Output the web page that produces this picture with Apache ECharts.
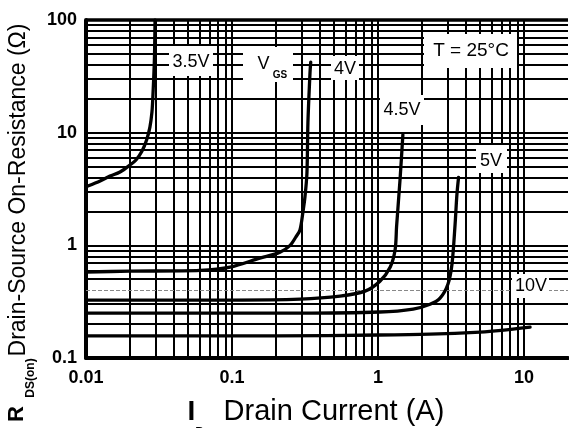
<!DOCTYPE html>
<html><head><meta charset="utf-8">
<script src="https://cdn.jsdelivr.net/npm/echarts@6/dist/echarts.min.js"></script>
<style>html,body{margin:0;padding:0;background:#fff}#c{width:569px;height:428px}</style>
</head><body><div id="c"></div>
<script>
// ---- tick labels ----
const xTickLabels = ['0.01', '0.1', '1', '10'];
const yTickLabels = ['0.1', '1', '10', '100'];
// grid line positions (log minor ticks)
const xGridValues = [0.02,0.03,0.04,0.05,0.06,0.07,0.08,0.09,0.1,0.2,0.3,0.4,0.5,0.6,0.7,0.8,0.9,1,2,3,4,5,6,7,8,9,10];
const yGridValues = [0.2,0.3,0.5,0.6,0.7,0.8,0.9,1,2,3,4,5,6,7,8,9,10,20,30,40,50,60,70,80,90];
const yGridLight = [0.4];

// ---- series values (ID in A, RDS(on) in ohm) ----
const vgs35_I = [0.0103, 0.0125, 0.0146, 0.0171, 0.0200, 0.0220, 0.0242, 0.0260, 0.0274, 0.0283, 0.0287, 0.0294, 0.0297];
const vgs35_R = [3.36, 3.73, 4.12, 4.48, 5.16, 5.72, 6.87, 8.61, 11.2, 15.3, 20.7, 44.2, 100];
const vgs4_I = [0.01, 0.02, 0.0604, 0.097, 0.155, 0.213, 0.25, 0.274, 0.292, 0.306, 0.316, 0.326, 0.331, 0.342, 0.346];
const vgs4_R = [0.58, 0.59, 0.60, 0.64, 0.77, 0.87, 1.0, 1.19, 1.37, 1.98, 2.70, 4.39, 12.2, 33.8, 42.3];
const vgs45_I = [0.01, 0.05, 0.1, 0.292, 0.549, 0.815, 1.03, 1.21, 1.31, 1.34, 1.415, 1.48];
const vgs45_R = [0.327, 0.327, 0.327, 0.333, 0.354, 0.392, 0.48, 0.638, 0.92, 1.47, 3.84, 9.6];
const vgs5_I = [0.01, 0.1, 0.292, 1.03, 1.74, 2.27, 2.66, 3.01, 3.21, 3.37, 3.47, 3.56];
const vgs5_R = [0.25, 0.25, 0.25, 0.256, 0.272, 0.30, 0.34, 0.452, 0.68, 1.53, 2.83, 4.0];
const vgs10_I = [0.01, 0.2, 1, 2.27, 5, 7, 11];
const vgs10_R = [0.157, 0.157, 0.16, 0.163, 0.17, 0.176, 0.188];

const FONT = '"Liberation Sans", Arial, Helvetica, sans-serif';
const zip = (a, b) => a.map((v, i) => [v, b[i]]);
function labelFor(list) {
  return function (v) {
    for (const s of list) { if (Math.abs(Math.log10(v) - Math.log10(parseFloat(s))) < 1e-6) return s; }
    return '';
  };
}
function curve(name, I, R) {
  return {
    name, type: 'line', data: zip(I, R), showSymbol: false, symbol: 'none',
    smooth: 0.3, z: 5, silent: true,
    lineStyle: { color: '#000', width: 3.3, cap: 'round', join: 'round' }
  };
}

const chart = echarts.init(document.getElementById('c'), null, { renderer: 'canvas' });

function box(x, y, w, h) { return { type: 'rect', shape: { x, y, width: w, height: h }, style: { fill: '#fff' }, z: 50 }; }
function txt(text, x, y, font, opts) {
  return Object.assign({
    type: 'text', x, y, z: 60,
    style: { text, font, fill: '#000', align: 'center', verticalAlign: 'middle', textAlign: 'center', textVerticalAlign: 'middle' }
  }, opts || {});
}

const graphics = [
  box(169, 46, 44, 30), txt('3.5V', 191, 62, '18px ' + FONT),
  box(243, 47, 50, 35), txt('V', 263.5, 64, '18px ' + FONT), txt('GS', 280, 75, 'bold 10px ' + FONT),
  box(331, 56, 28, 24), txt('4V', 345, 69, '18px ' + FONT),
  box(380, 95, 44, 30), txt('4.5V', 402, 110, '18px ' + FONT),
  box(424, 34, 93, 34), txt('T = 25\u00B0C', 471, 51, '19px ' + FONT),
  box(476, 145, 31, 28), txt('5V', 491, 161, '18px ' + FONT),
  box(512, 274, 37, 24), txt('10V', 531, 286, '18px ' + FONT),
  // axis titles
  txt('Drain-Source On-Resistance (\u03A9)', 19, 190, '23px ' + FONT, { rotation: Math.PI / 2 }),
  txt('R', 17, 414, 'bold 22px ' + FONT, { rotation: Math.PI / 2 }),
  txt('DS(on)', 31, 378, 'bold 12px ' + FONT, { rotation: Math.PI / 2 }),
  txt('I', 191.5, 412, 'bold 28px ' + FONT),
  txt('D', 200, 432, 'bold 13px ' + FONT),
  txt('Drain Current (A)', 334, 412, '29px ' + FONT)
];

const option = {
  animation: false,
  backgroundColor: '#fff',
  grid: { left: 86, right: 1, top: 20, bottom: 70, containLabel: false },
  xAxis: {
    type: 'log', logBase: 10, min: 0.01, max: 20,
    axisLine: { show: true, onZero: false, lineStyle: { color: '#000', width: 4 } },
    axisTick: { show: false }, splitLine: { show: false }, minorTick: { show: false },
    axisLabel: { formatter: labelFor(xTickLabels), margin: 11, color: '#000', fontSize: 18, fontWeight: 'bold', fontFamily: FONT, showMaxLabel: false }
  },
  yAxis: {
    type: 'log', logBase: 10, min: 0.1, max: 100,
    axisLine: { show: true, onZero: false, lineStyle: { color: '#000', width: 4 } },
    axisTick: { show: false }, splitLine: { show: false }, minorTick: { show: false },
    axisLabel: { formatter: labelFor(yTickLabels), margin: 9, color: '#000', fontSize: 18, fontWeight: 'bold', fontFamily: FONT }
  },
  series: [
    {
      name: 'grid', type: 'line', data: [[1, 1]], showSymbol: false, symbol: 'none', silent: true, z: 1,
      lineStyle: { width: 0 },
      markLine: {
        silent: true, symbol: ['none', 'none'], label: { show: false }, animation: false,
        lineStyle: { color: '#000', width: 2, type: 'solid' },
        data: [
          ...xGridValues.map(v => ({ xAxis: v })),
          ...yGridValues.map(v => ({ yAxis: v })),
          ...yGridLight.map(v => ({ yAxis: v, lineStyle: { color: '#888', width: 1, type: [4, 2] } })),
          { yAxis: 100, lineStyle: { color: '#000', width: 3.5 } }
        ]
      }
    },
    curve('3.5V', vgs35_I, vgs35_R),
    curve('4V', vgs4_I, vgs4_R),
    curve('4.5V', vgs45_I, vgs45_R),
    curve('5V', vgs5_I, vgs5_R),
    curve('10V', vgs10_I, vgs10_R)
  ],
  graphic: graphics
};
chart.setOption(option);
</script></body></html>
